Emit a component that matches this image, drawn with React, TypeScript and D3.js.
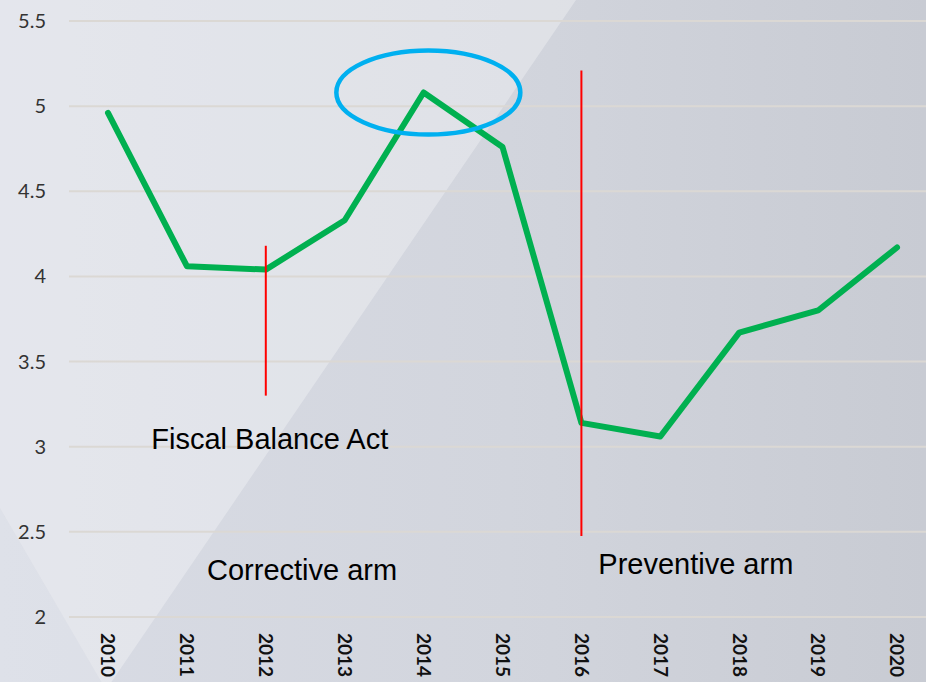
import * as React from 'react';
import * as d3 from 'd3';

const years: number[] = [2010, 2011, 2012, 2013, 2014, 2015, 2016, 2017, 2018, 2019, 2020];
const values: number[] = [4.96, 4.06, 4.04, 4.33, 5.08, 4.76, 3.14, 3.06, 3.67, 3.8, 4.17];
const yTicks: number[] = [2, 2.5, 3, 3.5, 4, 4.5, 5, 5.5];

// vertical markers: year, from value, to value
const markerYears: number[] = [2012, 2016];
const markerTop: number[] = [4.18, 5.21];
const markerBottom: number[] = [3.3, 2.475];

// text notes anchored in data space (centre year, baseline value)
const noteTexts: string[] = ['Fiscal Balance Act', 'Corrective arm', 'Preventive arm'];
const noteYears: number[] = [2012.05, 2012.46, 2017.45];
const noteValues: number[] = [2.985, 2.22, 2.25];

// highlighted peak
const peakYear = 2014.06;
const peakValue = 5.08;

const W = 926;
const H = 682;

export default function App() {
  const x = d3.scaleLinear().domain([2010, 2020]).range([108, 897]);
  const y = d3.scaleLinear().domain([2, 5.5]).range([617, 21]);

  const pts = years.map((yr, i) => ({ yr, v: values[i] }));
  const line = d3.line<{ yr: number; v: number }>()
    .x(d => x(d.yr))
    .y(d => y(d.v));

  return (
    <svg width={W} height={H} style={{ position: 'absolute', left: 0, top: 0 }}>
      <defs>
        <linearGradient id="bg" x1="0" y1="0" x2="1" y2="0">
          <stop offset="0" stopColor="#d9dce5" />
          <stop offset="0.55" stopColor="#d2d5dd" />
          <stop offset="1" stopColor="#c8cbd3" />
        </linearGradient>
      </defs>
      <rect x={0} y={0} width={W} height={H} fill="url(#bg)" />
      <polygon points="0,0 576,0 106,690 0,508" fill="#ffffff" opacity={0.3} />
      <polygon points="0,508 106,690 0,690" fill="#ffffff" opacity={0.15} />

      {yTicks.map(t => (
        <g key={t}>
          <line x1={69} x2={W} y1={y(t)} y2={y(t)} stroke="#dbd8d4" strokeWidth={2} />
          <text x={46} y={y(t)} dy="0.35em" textAnchor="end" fontFamily="Lato, 'Open Sans', sans-serif"
            fontSize={20} fill="#333">{t}</text>
        </g>
      ))}

      {years.map(yr => (
        <text key={yr} transform={`translate(${x(yr)},633) rotate(90)`} dy="0.35em"
          fontFamily="Lato, 'Liberation Sans', sans-serif" fontWeight="bold" fontSize={19} fill="#111">{yr}</text>
      ))}

      <path d={line(pts)!} fill="none" stroke="#00b050" strokeWidth={6} strokeLinejoin="round" strokeLinecap="round" />

      {markerYears.map((yr, i) => (
        <line key={yr} x1={x(yr)} x2={x(yr)} y1={y(markerTop[i])} y2={y(markerBottom[i])} stroke="#ff0000" strokeWidth={2} />
      ))}

      <ellipse cx={x(peakYear)} cy={y(peakValue)} rx={92} ry={42} fill="none" stroke="#00b0f0" strokeWidth={4.5} />

      {noteTexts.map((t, i) => (
        <text key={t} x={x(noteYears[i])} y={y(noteValues[i])} textAnchor="middle"
          fontFamily="'Liberation Sans', Arial, sans-serif" fontSize={29} fill="#000">{t}</text>
      ))}
    </svg>
  );
}
